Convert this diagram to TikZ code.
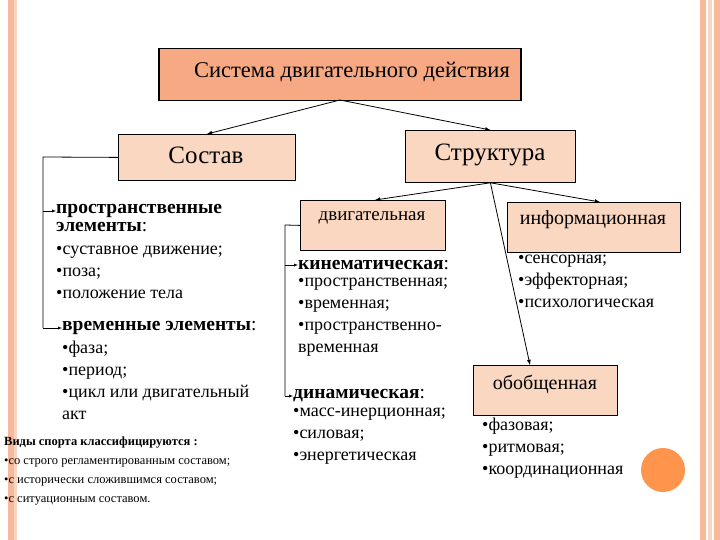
\documentclass[tikz,border=0pt]{standalone}
\usepackage{fontspec}
\setmainfont{Liberation Serif}
\begin{document}
\begin{tikzpicture}[x=1pt,y=-1pt,
  box/.style={draw=black,thick,fill=boxfill,anchor=north west,inner sep=0pt},
  con/.style={-latex,thick},
  txt/.style={anchor=north west,align=left,inner sep=0pt,font=\fontsize{18}{22}\selectfont},
  hd/.style={anchor=west,inner sep=0pt,font=\bfseries\fontsize{19.5}{23}\selectfont}]
\definecolor{boxfill}{HTML}{FAD7C0}
\definecolor{topfill}{HTML}{F7A984}
\definecolor{strip}{HTML}{F7B99A}
\useasboundingbox (0,0) rectangle (720,540);
\fill[white] (0,0) rectangle (720,540);
\fill[strip] (8,0) rectangle (14,540);
\fill[strip!60] (14,0) rectangle (17,540);
\fill[strip] (700,0) rectangle (706,540);
\fill[strip!60] (708,0) rectangle (712,540);
\fill[strip] (714,0) rectangle (720,540);
\node[box,fill=topfill,line width=1.5pt,minimum width=362,minimum height=52] (top) at (158,48) {};
\node at (352,72) {\fontsize{22.5}{24}\selectfont Система двигательного действия};
\node[box,minimum width=177,minimum height=46] (sostav) at (118,134) {};
\node at (206,155) {\fontsize{25}{26}\selectfont Состав};
\node[box,minimum width=170,minimum height=52] (struct) at (405,130) {};
\node at (490,155) {\fontsize{25}{26}\selectfont Структура};
\node[box,minimum width=145,minimum height=50] (dvig) at (300,200) {};
\node at (372,218) {\fontsize{19}{20}\selectfont двигательная};
\node[box,minimum width=173,minimum height=50] (inf) at (507,202) {};
\node at (593,220) {\fontsize{20}{20}\selectfont информационная};
\node[box,minimum width=144,minimum height=50] (obob) at (473,365) {};
\node at (545,384) {\fontsize{20}{20}\selectfont обобщенная};
\fill[orange!80!red!70] (663,470) circle (22);
\node[circle,minimum size=44] (circ) at (663,470) {};
\coordinate (tb) at (340,100);
\draw[con] (tb) -- (sostav.north);
\draw[con] (tb) -- (struct.north);
\draw[con] (struct.south) -- (375,200);
\draw[con] (struct.south) -- (600,202);
\draw[con] (struct.south) -- (530,365);
% left bracket
\node[hd] (pe) at (56,211) {пространственные};
\node[hd,anchor=north west] (pe2) at (56,222) {элементы\textmd{:}};
\node[txt] (pel) at (56,246) {•суставное движение;\\•поза;\\•положение тела};
\node[hd] (ve) at (62,328) {временные элементы\textmd{:}};
\node[txt] (vel) at (62,341) {•фаза;\\•период;\\•цикл или двигательный\\ акт};
\draw[thick] (sostav.west) -- (43,157) -- (43,328);
\draw[-latex] (43,211) -- (pe.west);
\draw[-latex] (43,328) -- (ve.west);
% kinematic
\node[hd] (kin) at (298,265) {кинематическая\textmd{:}};
\node[txt] (kinl) at (298,278) {•пространственная;\\•временная;\\•пространственно-\\временная};
\node[hd] (din) at (293,396) {динамическая\textmd{:}};
\node[txt] (dinl) at (293,408) {•масс-инерционная;\\•силовая;\\•энергетическая};
\draw[thick] (dvig.west) -- (285,225) -- (285,396);
\draw[-latex] (285,265) -- (kin.west);
\draw[-latex] (285,396) -- (din.west);
\node[txt] (infl) at (518,255) {•сенсорная;\\•эффекторная;\\•психологическая};
\node[txt] (obl) at (482,418) {•фазовая;\\•ритмовая;\\•координационная};
\node[anchor=north west,align=left,inner sep=0pt,font=\fontsize{12.5}{19}\selectfont] (vid) at (4,437)
 {\textbf{Виды спорта классифицируются :}\\•со строго регламентированным составом;\\•с исторически сложившимся составом;\\•с ситуационным составом.};
\end{tikzpicture}
\end{document}
